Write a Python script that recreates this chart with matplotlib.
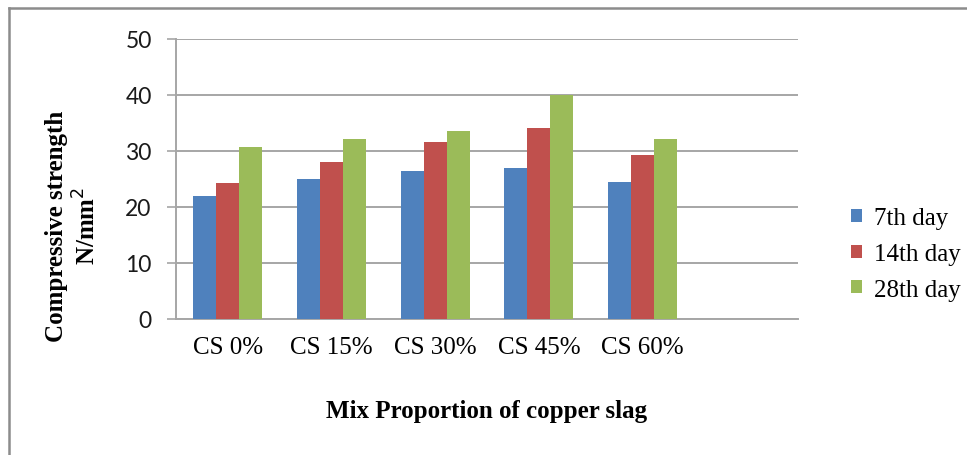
import matplotlib
matplotlib.use("Agg")
import matplotlib.pyplot as plt
from matplotlib.lines import Line2D
import numpy as np

categories = ["CS 0%", "CS 15%", "CS 30%", "CS 45%", "CS 60%"]
series_names = ["7th day", "14th day", "28th day"]
day7 = [22.0, 24.9, 26.3, 27.0, 24.5]
day14 = [24.3, 27.9, 31.6, 34.0, 29.2]
day28 = [30.7, 32.0, 33.6, 40.0, 32.0]
y_ticks = [0, 10, 20, 30, 40, 50]

colors = ["#4F81BD", "#C0504D", "#9BBB59"]
serif = "Liberation Serif"
sans = "Lato"

fig = plt.figure(figsize=(9.67, 4.56), dpi=100)
ax = fig.add_axes([176 / 967, 1 - 320 / 456, (798 - 176) / 967, (320 - 39.5) / 456])

x = np.arange(len(categories))
width = 0.222
for i, (vals, name, c) in enumerate(zip([day7, day14, day28], series_names, colors)):
    ax.bar(x + (i - 1) * width, vals, width, color=c, label=name, zorder=3)

# one empty category slot is kept on the right, as in the source workbook
ax.set_xlim(-0.5, len(categories) + 0.5)
ax.set_ylim(0, 50)
ax.set_yticks(y_ticks)
ax.set_xticks(x)
ax.set_xticklabels(categories, fontfamily=serif, fontsize=18)
ax.set_yticklabels([str(v) for v in y_ticks], fontfamily=sans, fontsize=16.5, color="#1a1a1a")

ax.yaxis.grid(True, color="#a6a6a6", linewidth=1.4, zorder=0)
ax.tick_params(axis="x", length=0, pad=12)
ax.tick_params(axis="y", length=6.5, width=1.2, color="#a6a6a6", pad=11)
for side in ["top", "right"]:
    ax.spines[side].set_visible(False)
for side in ["left", "bottom"]:
    ax.spines[side].set_color("#a6a6a6")
    ax.spines[side].set_linewidth(1.4)

ax.set_xlabel("Mix Proportion of copper slag", fontfamily=serif, fontsize=18,
              fontweight="bold", labelpad=30)
fig.text(73 / 967, 1 - 226 / 456, "Compressive strength\nN/mm$^{2}$", rotation=90,
         ha="center", va="center", fontfamily=serif, fontsize=18, fontweight="bold",
         linespacing=1.25)

leg = ax.legend(loc="center left", bbox_to_anchor=(851 / 967, 1 - 255 / 456),
                bbox_transform=fig.transFigure, frameon=False,
                prop={"family": serif, "size": 18}, handlelength=0.42,
                handleheight=0.42, handletextpad=0.5, labelspacing=0.55,
                borderpad=0, borderaxespad=0)

# outer frame of the chart area
fig.add_artist(Line2D([9 / 967, 1.0], [1 - 9 / 456, 1 - 9 / 456],
                      transform=fig.transFigure, color="#8c8c8c", linewidth=1.8))
fig.add_artist(Line2D([9 / 967, 9 / 967], [0.0, 1 - 9 / 456],
                      transform=fig.transFigure, color="#8c8c8c", linewidth=1.8))

fig.savefig("out.png", dpi=100)
